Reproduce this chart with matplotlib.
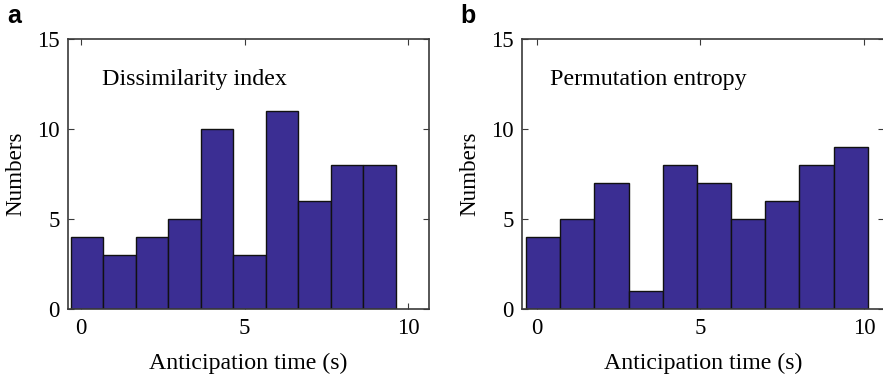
import matplotlib
matplotlib.use('Agg')
from matplotlib import pyplot as plt

# bin counts
counts_a = [4, 3, 4, 5, 10, 3, 11, 6, 8, 8]
counts_b = [4, 5, 7, 1, 8, 7, 5, 6, 8, 9]
labels = ['Dissimilarity index', 'Permutation entropy']
panels = ['a', 'b']
xticks = [0, 5, 10]
yticks = [0, 5, 10, 15]

# bin layout (left edge of first bin, bin width) for each panel
bins_a = (-0.31, 0.994)
bins_b = (-0.33, 1.045)

plt.rcParams['font.family'] = ['Liberation Serif', 'DejaVu Serif']
bar_color = '#3b2e93'
spine_color = '#3a3a3a'

fig = plt.figure(figsize=(8.83, 3.75), dpi=100)
ax_a = fig.add_axes([0.077, 0.1752, 0.4088, 0.7208])
ax_b = fig.add_axes([0.5912, 0.1752, 0.4094, 0.7208])

for ax, counts, (x0, w), label, xlim, tx in [
        (ax_a, counts_a, bins_a, labels[0], (-0.40, 10.64), 0.63),
        (ax_b, counts_b, bins_b, labels[1], (-0.45, 10.60), 0.41)]:
    lefts = [x0 + i * w for i in range(len(counts))]
    ax.bar(lefts, counts, width=w, align='edge', color=bar_color,
           edgecolor='#111111', linewidth=1.0, zorder=2)
    ax.set_xlim(*xlim)
    ax.set_ylim(0, 15)
    ax.set_xticks(xticks)
    ax.set_yticks(yticks)
    ax.tick_params(direction='in', length=4, width=0.8, color=spine_color,
                   labelsize=16.5, top=True, right=True, pad=6)
    for s in ax.spines.values():
        s.set_color(spine_color)
        s.set_linewidth(1.2)
        s.set_zorder(3)
    ax.set_xlabel('Anticipation time (s)', fontsize=17.2, labelpad=10)
    ax.set_ylabel('Numbers', fontsize=16.6)
    ax.yaxis.set_label_coords(-0.115, 0.5)
    ax.text(tx, 12.45, label, fontsize=17.3, va='baseline', ha='left')

fig.text(7 / 883, 1 - 23 / 375, panels[0], fontsize=18, fontweight='bold',
         family=['Liberation Sans', 'DejaVu Sans'], va='baseline')
fig.text(460 / 883, 1 - 23 / 375, panels[1], fontsize=18, fontweight='bold',
         family=['Liberation Sans', 'DejaVu Sans'], va='baseline')

fig.savefig('out.png', dpi=100)
